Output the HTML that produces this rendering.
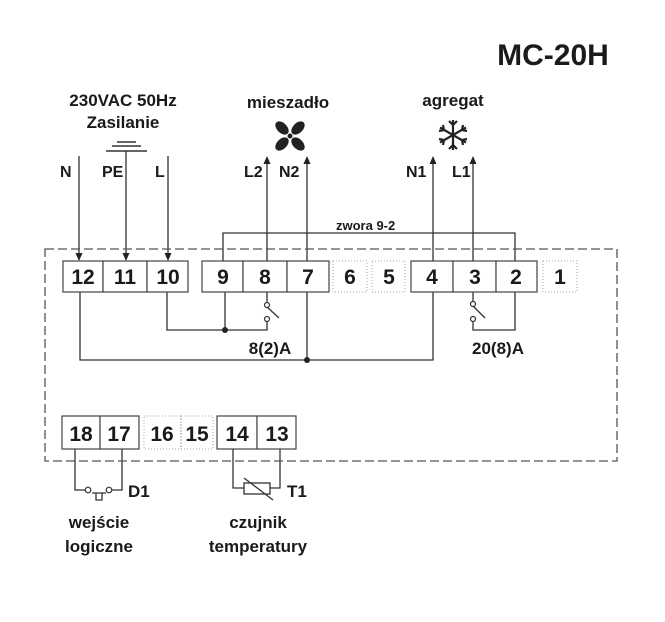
<!DOCTYPE html>
<html><head><meta charset="utf-8"><style>
html,body{margin:0;padding:0;background:#fff}
svg text{font-family:"Liberation Sans Narrow","Liberation Sans",sans-serif;font-weight:bold;fill:#1a1a1a}
</style></head><body>
<svg width="665" height="617" viewBox="0 0 665 617" xmlns="http://www.w3.org/2000/svg">
<text x="553" y="65" font-size="30" text-anchor="middle">MC-20H</text>
<text x="123" y="106" font-size="17" text-anchor="middle">230VAC 50Hz</text>
<text x="123" y="128" font-size="17" text-anchor="middle">Zasilanie</text>
<text x="288" y="108" font-size="17" text-anchor="middle">mieszadło</text>
<text x="453" y="106" font-size="17" text-anchor="middle">agregat</text>
<g fill="#222">
<circle cx="290" cy="136" r="2.5"/>
<ellipse cx="282" cy="128" rx="8" ry="5" transform="rotate(45 282 128)"/>
<ellipse cx="298" cy="128" rx="8" ry="5" transform="rotate(-45 298 128)"/>
<ellipse cx="282" cy="144" rx="8" ry="5" transform="rotate(-45 282 144)"/>
<ellipse cx="298" cy="144" rx="8" ry="5" transform="rotate(45 298 144)"/>
</g>
<g stroke="#222" stroke-width="2.2" fill="none">
<path d="M453 120v30M440 127.5l26 15M440 142.5l26-15"/>
<path d="M449 121l4 4 4-4M449 149l4-4 4 4M439 131l5-1-1-5M467 131l-5-1 1-5M439 139l5 1-1 5M467 139l-5 1 1 5"/>
</g>
<g font-size="16">
<text x="60" y="177">N</text><text x="102" y="177">PE</text><text x="155" y="177">L</text>
<text x="244" y="177">L2</text><text x="279" y="177">N2</text>
<text x="406" y="177">N1</text><text x="452" y="177">L1</text>
</g>
<g stroke="#333" stroke-width="1.5">
<line x1="117" y1="142" x2="136" y2="142"/><line x1="112" y1="146" x2="141" y2="146"/><line x1="106" y1="151" x2="147" y2="151"/>
</g>
<g stroke="#333" stroke-width="1.3" fill="none">
<line x1="79" y1="156" x2="79" y2="256"/>
<line x1="126" y1="151" x2="126" y2="256"/>
<line x1="168" y1="156" x2="168" y2="256"/>
<line x1="267" y1="261" x2="267" y2="160"/>
<line x1="307" y1="261" x2="307" y2="160"/>
<line x1="433" y1="261" x2="433" y2="160"/>
<line x1="473" y1="261" x2="473" y2="160"/>
<path d="M223 261V233H515V261"/>
<path d="M167 292V330H267V320M225 292V330M267 292V302"/>
<line x1="266" y1="306" x2="279" y2="318"/>
<path d="M80 292V360H433V292M307 292V360"/>
<path d="M473 292V301M473 321V330H515V292"/>
<line x1="472" y1="305" x2="485" y2="318"/>
<path d="M75 449V490H85M122 449V490H112M92 493H106M96 493V500H102V493"/>
<path d="M233 449V488H244M270 488H280V449"/>
<rect x="244" y="483" width="26" height="11"/>
<line x1="244" y1="478" x2="273" y2="500"/>
</g>
<g fill="#222">
<path d="M75.5 253H82.5L79 261Z"/><path d="M122.5 253H129.5L126 261Z"/><path d="M164.5 253H171.5L168 261Z"/>
<path d="M263.5 164H270.5L267 156Z"/><path d="M303.5 164H310.5L307 156Z"/>
<path d="M429.5 164H436.5L433 156Z"/><path d="M469.5 164H476.5L473 156Z"/>
</g>
<g stroke="#333" stroke-width="1.2" fill="#fff">
<circle cx="267" cy="305" r="2.5"/><circle cx="267" cy="319" r="2.5"/>
<circle cx="473" cy="304" r="2.5"/><circle cx="473" cy="319" r="2.5"/>
<circle cx="88" cy="490" r="2.8"/><circle cx="109" cy="490" r="2.8"/>
</g>
<g fill="#222"><circle cx="225" cy="330" r="3"/><circle cx="307" cy="360" r="3"/></g>
<text x="336" y="230" font-size="13">zwora 9-2</text>
<text x="270" y="354" font-size="17" text-anchor="middle">8(2)A</text>
<text x="498" y="354" font-size="17" text-anchor="middle">20(8)A</text>
<rect x="45" y="249" width="572" height="212" fill="none" stroke="#555" stroke-width="1.3" stroke-dasharray="9,4"/>
<g stroke="#444" stroke-width="1.2" fill="#fff">
<rect x="63" y="261" width="40" height="31"/><rect x="103" y="261" width="44" height="31"/><rect x="147" y="261" width="41" height="31"/>
<rect x="202" y="261" width="41" height="31"/><rect x="243" y="261" width="44" height="31"/><rect x="287" y="261" width="42" height="31"/>
<rect x="411" y="261" width="42" height="31"/><rect x="453" y="261" width="43" height="31"/><rect x="496" y="261" width="41" height="31"/>
<rect x="62" y="416" width="38" height="33"/><rect x="100" y="416" width="39" height="33"/>
<rect x="217" y="416" width="40" height="33"/><rect x="257" y="416" width="39" height="33"/>
</g>
<g stroke="#aaa" stroke-width="1" fill="none" stroke-dasharray="1,2">
<rect x="333" y="261" width="34" height="31"/><rect x="372" y="261" width="33" height="31"/><rect x="543" y="261" width="34" height="31"/>
<rect x="144" y="416" width="37" height="33"/><rect x="181" y="416" width="32" height="33"/>
</g>
<g font-size="21" text-anchor="middle">
<text x="83" y="284">12</text><text x="125" y="284">11</text><text x="168" y="284">10</text>
<text x="223" y="284">9</text><text x="265" y="284">8</text><text x="308" y="284">7</text>
<text x="350" y="284">6</text><text x="389" y="284">5</text>
<text x="432" y="284">4</text><text x="475" y="284">3</text><text x="516" y="284">2</text><text x="560" y="284">1</text>
<text x="81" y="441">18</text><text x="119" y="441">17</text><text x="162" y="441">16</text><text x="197" y="441">15</text>
<text x="237" y="441">14</text><text x="277" y="441">13</text>
</g>
<text x="128" y="497" font-size="17">D1</text>
<text x="287" y="497" font-size="17">T1</text>
<g font-size="17" text-anchor="middle">
<text x="99" y="528">wejście</text><text x="99" y="552">logiczne</text>
<text x="258" y="528">czujnik</text><text x="258" y="552">temperatury</text>
</g>
</svg>
</body></html>
